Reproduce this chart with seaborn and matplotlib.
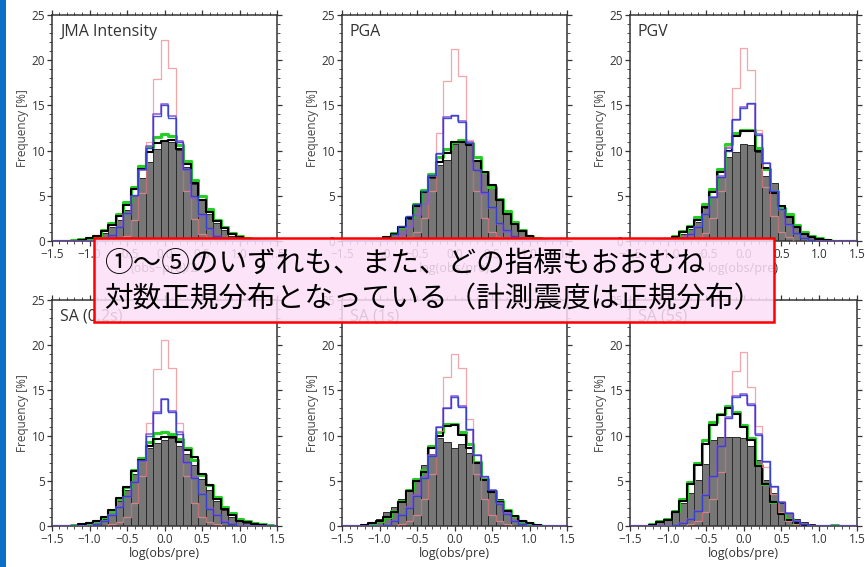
import numpy as np
import pandas as pd
import matplotlib
matplotlib.use("Agg")
import matplotlib.pyplot as plt
import seaborn as sns
from matplotlib.patches import Rectangle
from matplotlib.ticker import MultipleLocator

# ---------------- data (frequency in %, bins of width 0.1 centred on -1.5 ... 1.5) -------------
bin_centers = [-1.5, -1.4, -1.3, -1.2, -1.1, -1.0, -0.9, -0.8, -0.7, -0.6,
               -0.5, -0.4, -0.3, -0.2, -0.1, 0.0, 0.1, 0.2, 0.3, 0.4,
               0.5, 0.6, 0.7, 0.8, 0.9, 1.0, 1.1, 1.2, 1.3, 1.4, 1.5]
bin_edges = [-1.55, -1.45, -1.35, -1.25, -1.15, -1.05, -0.95, -0.85, -0.75, -0.65, -0.55,
             -0.45, -0.35, -0.25, -0.15, -0.05, 0.05, 0.15, 0.25, 0.35, 0.45,
             0.55, 0.65, 0.75, 0.85, 0.95, 1.05, 1.15, 1.25, 1.35, 1.45, 1.55]

panel_titles = ["JMA Intensity", "PGA", "PGV", "SA (0.2s)", "SA (1s)", "SA (5s)"]
panel_xlabels = ["(obs\u2212pre)/2", "log(obs/pre)", "log(obs/pre)",
                 "log(obs/pre)", "log(obs/pre)", "log(obs/pre)"]

# JMA Intensity
jma_pink   = [0,0,0,0,0, 0,0,0,0,0.2, 0.6,2.3,5.3,10.9,17.9, 22.2, 19.1,11.0,5.5,2.4,0.8, 0.3,0,0,0,0, 0,0,0,0,0]
jma_purple = [0,0,0,0,0, 0,0,0.2,0.6,1.5, 3.0,5.0,7.9,10.5,14.0, 15.2, 13.8,11.1,7.8,4.8,2.8, 1.3,0.5,0.2,0,0, 0,0,0,0,0]
jma_blue   = [0,0,0,0,0, 0,0,0.2,0.7,1.6, 3.1,5.1,8.0,10.3,13.8, 15.0, 13.6,11.0,8.0,5.0,3.0, 1.4,0.6,0.2,0,0, 0,0,0,0,0]
jma_green  = [0,0,0,0.1,0.2, 0.3,0.6,1.2,2.0,3.0, 4.3,6.0,8.3,10.4,11.5, 11.8, 11.6,10.6,8.8,6.8,5.0, 3.5,2.3,1.5,0.9,0.5, 0.3,0.2,0.1,0,0]
jma_black  = [0,0,0,0,0.1, 0.3,0.6,1.1,1.8,2.8, 4.0,5.8,8.0,9.9,10.8, 11.1, 11.2,10.2,8.5,6.4,4.5, 3.2,2.2,1.4,0.8,0.4, 0.2,0.1,0,0,0]
jma_gray   = [0,0,0,0,0, 0.3,0.5,0.9,1.5,2.3, 3.4,5.0,7.0,8.7,10.2, 11.1, 11.0,10.1,8.2,6.3,4.5, 3.0,2.0,1.2,0.6,0.3, 0.1,0,0,0,0]

# PGA
pga_pink   = [0,0,0,0,0, 0,0,0,0.2,0.4, 1.0,2.5,5.5,11.9,17.7, 21.2, 18.2,11.2,5.5,2.5,1.0, 0.4,0.2,0,0,0, 0,0,0,0,0]
pga_purple = [0,0,0,0,0, 0,0,0.3,0.8,1.6, 2.9,4.1,7.2,9.6,13.7, 13.8, 13.3,10.9,7.8,5.2,3.6, 1.9,1.0,0.4,0.1,0, 0,0,0,0,0]
pga_blue   = [0,0,0,0,0, 0,0.1,0.8,1.7,2.8, 4.1,5.5,7.3,9.7,13.6, 13.9, 13.2,10.8,7.8,5.4,3.8, 2.0,1.2,0.5,0.2,0, 0,0,0,0,0]
pga_green  = [0,0,0,0,0.1, 0.2,0.4,0.9,1.6,2.6, 4.1,5.6,7.4,9.3,10.2, 11.0, 11.2,10.8,9.3,7.6,6.0, 4.6,3.3,2.1,1.2,0.6, 0.3,0.1,0,0,0]
pga_black  = [0,0,0,0,0, 0.2,0.4,0.8,1.5,2.5, 3.9,5.4,7.1,8.7,9.7, 10.9, 11.0,10.6,8.9,7.6,6.2, 4.5,3.0,1.9,1.1,0.5, 0.2,0.1,0,0,0]
pga_gray   = [0,0,0,0,0, 0.1,0.4,0.8,1.5,2.4, 3.9,5.4,7.0,8.4,9.0, 10.7, 10.9,10.7,8.9,7.6,6.0, 4.5,3.0,1.9,1.2,0.6, 0.2,0.1,0,0,0]

# PGV
pgv_pink   = [0,0,0,0,0, 0,0,0,0,0.3, 0.9,2.5,5.5,10.5,16.9, 21.3, 18.9,12.3,6.0,2.8,1.0, 0.4,0,0,0,0, 0,0,0,0,0]
pgv_purple = [0,0,0,0,0, 0,0,0.3,0.7,1.5, 3.0,4.9,7.2,10.3,13.4, 14.8, 15.2,11.8,8.6,5.5,3.4, 1.8,0.8,0.3,0,0, 0,0,0,0,0]
pgv_blue   = [0,0,0,0,0, 0,0,0.3,0.8,1.6, 3.0,4.9,7.1,10.0,13.5, 14.7, 15.3,11.7,8.6,5.5,3.5, 1.9,0.9,0.3,0.1,0, 0,0,0,0,0]
pgv_green  = [0,0,0,0,0.1, 0.2,0.5,1.1,1.7,2.7, 4.1,5.7,8.0,10.7,11.9, 12.3, 12.3,10.3,8.0,5.5,3.7, 3.0,1.8,1.0,0.5,0.3, 0.1,0,0,0,0]
pgv_black  = [0,0,0,0,0.1, 0.2,0.4,1.0,1.5,2.3, 3.8,5.4,7.6,10.0,11.6, 12.2, 12.2,10.0,8.1,5.3,3.9, 2.6,1.5,0.8,0.4,0.2, 0.1,0,0,0,0]
pgv_gray   = [0,0,0,0,0, 0.2,0.4,0.8,1.3,2.1, 3.6,4.9,7.1,9.3,9.9, 10.7, 10.6,9.8,7.2,6.4,4.0, 2.6,1.6,0.9,0.5,0.3, 0.1,0,0,0,0]

# SA (0.2s)
sa02_pink   = [0,0,0,0,0, 0,0,0,0.2,0.4, 1.0,2.5,5.5,11.4,17.4, 20.6, 17.5,11.4,5.5,2.5,1.0, 0.4,0.2,0,0,0, 0,0,0,0,0]
sa02_purple = [0,0,0,0,0, 0,0.2,0.5,1.2,2.1, 3.2,4.9,7.2,10.2,12.6, 14.1, 12.7,10.4,7.0,5.4,3.5, 2.0,1.2,0.5,0.2,0, 0,0,0,0,0]
sa02_blue   = [0,0,0,0,0, 0,0.2,0.6,1.2,2.1, 3.3,4.9,7.3,10.0,12.5, 14.0, 12.6,10.2,7.1,5.3,3.5, 1.9,1.2,0.4,0.2,0, 0,0,0,0,0]
sa02_green  = [0,0,0,0.1,0.2, 0.3,0.6,1.0,1.7,3.0, 4.3,6.2,7.5,9.3,10.3, 10.4, 10.2,9.6,8.6,7.3,5.6, 4.5,3.2,2.1,1.4,0.8, 0.5,0.3,0.2,0.1,0]
sa02_black  = [0,0,0,0,0.2, 0.3,0.5,1.0,1.8,3.1, 4.3,6.1,7.3,8.8,9.6, 9.9, 9.9,9.3,8.4,7.6,5.7, 4.5,3.0,1.9,1.2,0.6, 0.4,0.2,0.1,0,0]
sa02_gray   = [0,0,0,0,0.1, 0.3,0.5,0.8,1.6,2.8, 4.0,5.8,7.3,8.6,9.2, 9.5, 9.75,8.9,8.0,6.8,5.2, 4.0,2.8,1.8,1.0,0.6, 0.3,0.2,0.1,0,0]

# SA (1s)
sa1_pink   = [0,0,0,0,0, 0,0,0,0.2,0.5, 1.2,3.0,5.8,10.5,16.5, 19.0, 17.5,11.8,5.8,3.0,1.2, 0.5,0.2,0,0,0, 0,0,0,0,0]
sa1_purple = [0,0,0,0,0, 0,0,0.5,1.2,2.1, 3.4,5.4,7.8,11.0,13.0, 14.4, 13.3,10.6,7.8,5.4,4.0, 2.5,1.4,0.6,0.2,0, 0,0,0,0,0]
sa1_blue   = [0,0,0,0,0, 0,0.1,0.5,1.2,2.0, 3.3,5.3,7.7,10.9,13.1, 14.3, 13.2,10.7,7.9,5.5,4.0, 2.4,1.3,0.6,0.2,0, 0,0,0,0,0]
sa1_green  = [0,0,0,0.1,0.3, 0.5,1.0,1.7,2.8,4.0, 5.2,6.2,8.9,10.4,11.3, 11.3, 10.4,9.1,7.1,5.2,3.9, 2.8,1.8,1.1,0.6,0.3, 0.1,0,0,0,0]
sa1_black  = [0,0,0,0.1,0.3, 0.5,1.0,1.6,2.7,3.9, 5.0,6.0,8.6,10.0,11.1, 11.2, 10.1,8.6,7.0,5.1,3.8, 2.7,1.7,1.1,0.6,0.3, 0.1,0,0,0,0]
sa1_gray   = [0,0,0,0.2,0.4, 0.8,1.6,2.1,3.0,4.0, 5.2,6.7,8.0,9.7,9.3, 8.6, 9.1,8.1,7.0,5.1,4.0, 3.0,1.9,1.2,0.6,0.3, 0.1,0,0,0,0]

# SA (5s)
sa5_pink   = [0,0,0,0,0, 0,0,0,0.2,0.5, 1.5,3.0,6.0,12.0,17.1, 19.3, 15.4,11.1,6.5,3.5,1.5, 0.5,0.2,0,0,0, 0,0,0,0,0]
sa5_purple = [0,0,0,0,0, 0,0,0.3,0.8,1.7, 3.4,5.4,8.9,12.1,14.4, 14.6, 13.5,10.2,7.1,4.3,2.7, 1.4,0.6,0.2,0,0, 0,0,0,0,0]
sa5_blue   = [0,0,0,0,0, 0,0.1,0.3,0.8,1.7, 3.4,5.5,8.9,12.0,14.3, 14.5, 13.4,10.1,7.2,4.4,2.7, 1.4,0.6,0.2,0,0, 0,0,0,0,0]
sa5_green  = [0,0,0,0.2,0.5, 0.8,1.7,3.0,4.9,7.0, 9.5,11.5,12.4,13.3,12.6, 11.2, 9.7,6.7,4.7,2.7,1.4, 0.8,0.3,0.1,0,0, 0,0.1,0,0,0]
sa5_black  = [0,0,0,0.1,0.4, 0.7,1.5,2.8,4.6,6.7, 9.1,11.2,12.3,13.0,12.4, 11.0, 9.5,6.6,4.6,2.6,1.3, 0.7,0.3,0.1,0,0, 0,0,0,0,0]
sa5_gray   = [0,0,0,0,0.4, 0.9,1.6,2.5,3.6,5.1, 6.9,9.5,9.9,9.9,9.8, 9.7, 8.8,7.3,5.1,3.6,2.5, 1.4,0.8,0.4,0.2,0, 0,0,0,0,0]

panel_series = [
    dict(pink=jma_pink, purple=jma_purple, blue=jma_blue, green=jma_green, black=jma_black, gray=jma_gray),
    dict(pink=pga_pink, purple=pga_purple, blue=pga_blue, green=pga_green, black=pga_black, gray=pga_gray),
    dict(pink=pgv_pink, purple=pgv_purple, blue=pgv_blue, green=pgv_green, black=pgv_black, gray=pgv_gray),
    dict(pink=sa02_pink, purple=sa02_purple, blue=sa02_blue, green=sa02_green, black=sa02_black, gray=sa02_gray),
    dict(pink=sa1_pink, purple=sa1_purple, blue=sa1_blue, green=sa1_green, black=sa1_black, gray=sa1_gray),
    dict(pink=sa5_pink, purple=sa5_purple, blue=sa5_blue, green=sa5_green, black=sa5_black, gray=sa5_gray),
]

note_line1 = "①～⑤のいずれも、また、どの指標もおおむね"
note_line2 = "対数正規分布となっている（計測震度は正規分布）"

# ---------------- style ----------------
sns.set_style("ticks")
plt.rcParams["font.family"] = ["Open Sans", "DejaVu Sans"]
plt.rcParams["axes.unicode_minus"] = True

W, H = 865, 567
fig = plt.figure(figsize=(W / 100, H / 100), dpi=100)

# axes boxes in pixels: (left, top, right, bottom)
boxes = [(52, 15, 277, 241), (342, 15, 567, 241), (630, 15, 857, 241),
         (52, 300, 277, 526), (342, 300, 567, 526), (630, 300, 857, 526)]

step_styles = [
    ("green", "#25d025", 2.2, 1.0),
    ("black", "#000000", 1.5, 1.0),
    ("pink", "#f2888e", 0.9, 0.75),
    ("purple", "#8a55d8", 1.1, 1.0),
    ("blue", "#3040cc", 1.0, 0.9),
]

for i, (l, t, r, b) in enumerate(boxes):
    ax = fig.add_axes([l / W, 1 - b / H, (r - l) / W, (b - t) / H])
    df = pd.DataFrame({"x": bin_centers, **panel_series[i]})
    sns.histplot(data=df, x="x", weights="gray", bins=bin_edges, element="bars",
                 color="#777777", edgecolor="#2a2a2a", linewidth=0.7, alpha=1.0,
                 ax=ax, zorder=2)
    for z, (key, col, lw, al) in enumerate(step_styles):
        sns.histplot(data=df, x="x", weights=key, bins=bin_edges, element="step",
                     fill=False, color=col, linewidth=lw, alpha=al, ax=ax, zorder=3 + z)
    ax.set_xlim(-1.5, 1.5)
    ax.set_ylim(0, 25)
    ax.xaxis.set_major_locator(MultipleLocator(0.5))
    ax.xaxis.set_minor_locator(MultipleLocator(0.1))
    ax.yaxis.set_major_locator(MultipleLocator(5))
    ax.yaxis.set_minor_locator(MultipleLocator(1))
    ax.set_xticks([-1.5, -1.0, -0.5, 0.0, 0.5, 1.0, 1.5])
    ax.set_xticklabels(["\u22121.5", "\u22121.0", "\u22120.5", "0.0", "0.5", "1.0", "1.5"])
    ax.tick_params(which="both", direction="out", top=True, right=True,
                   colors="#333333", labelsize=8.5, pad=1.5)
    ax.tick_params(which="major", length=3.5, width=0.9)
    ax.tick_params(which="minor", length=2, width=0.6)
    for sp in ax.spines.values():
        sp.set_color("#333333")
        sp.set_linewidth(1.1)
    ax.set_ylabel("Frequency [%]", fontsize=8.5, color="#444444", labelpad=2)
    ax.set_xlabel(panel_xlabels[i], fontsize=9, color="#333333", labelpad=1)
    ax.text(0.035, 0.925, panel_titles[i], transform=ax.transAxes, ha="left",
            va="center", fontsize=11.5, color="#333333", zorder=10)

# left blue stripe
fig.add_artist(Rectangle((0, 0), 6 / W, 1, transform=fig.transFigure,
                         facecolor="#0b6fc6", edgecolor="none", zorder=20))

# annotation box
fig.add_artist(Rectangle((94 / W, 1 - 322 / H), (774 - 94) / W, (322 - 238) / H,
                         transform=fig.transFigure, facecolor=(0.99, 0.87, 0.97, 0.85),
                         edgecolor="#ff0000", linewidth=1.8, zorder=20))
jp_font = ["Noto Sans CJK JP", "DejaVu Sans"]
fig.text(104 / W, 1 - 264 / H, note_line1, fontsize=20.6, family=jp_font,
         ha="left", va="center", color="black", zorder=21)
fig.text(104 / W, 1 - 299 / H, note_line2, fontsize=20.6, family=jp_font,
         ha="left", va="center", color="black", zorder=21)

fig.savefig("out.png", dpi=100)
